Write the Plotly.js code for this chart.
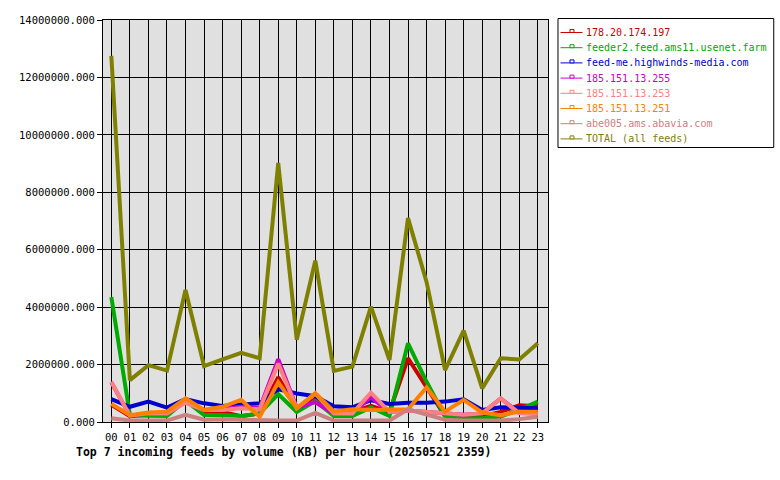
<!DOCTYPE html>
<html>
<head>
<meta charset="utf-8">
<script src="https://cdn.plot.ly/plotly-3.0.1.min.js"></script>
<style>html,body{margin:0;padding:0;background:#fff;}#chart{width:780px;height:480px;}</style>
</head>
<body>
<div id="chart"></div>
<script>
const hours = ["00","01","02","03","04","05","06","07","08","09","10","11","12","13","14","15","16","17","18","19","20","21","22","23"];
const seriesNames = ["178.20.174.197","feeder2.feed.ams11.usenet.farm","feed-me.highwinds-media.com","185.151.13.255","185.151.13.253","185.151.13.251","abe005.ams.abavia.com","TOTAL (all feeds)"];
const seriesColors = ["#cc0000","#00aa00","#0000cc","#cc00cc","#ff8080","#ff8000","#cc8080","#808000"];

const red     = [600000,200000,250000,300000,750000,350000,350000,200000,300000,1560000,450000,800000,300000,350000,560000,350000,2220000,1200000,200000,200000,200000,350000,580000,550000];
const green   = [4350000,240000,220000,210000,740000,240000,240000,210000,300000,970000,350000,730000,210000,210000,510000,210000,2740000,1400000,190000,130000,130000,190000,420000,710000];
const blue    = [800000,530000,710000,500000,800000,650000,560000,600000,650000,1140000,990000,900000,550000,510000,760000,630000,670000,670000,710000,790000,420000,510000,480000,480000];
const magenta = [1380000,220000,300000,300000,700000,420000,450000,530000,480000,2190000,500000,690000,300000,320000,860000,350000,400000,350000,300000,250000,300000,820000,320000,300000];
const pink    = [1400000,220000,300000,300000,670000,420000,420000,480000,440000,2040000,480000,990000,300000,300000,1020000,350000,400000,350000,300000,250000,300000,820000,300000,280000];
const orange  = [630000,240000,330000,360000,820000,420000,530000,770000,180000,1380000,480000,1000000,370000,440000,420000,440000,440000,1200000,360000,770000,330000,240000,360000,360000];
const dusty   = [130000,50000,50000,50000,250000,80000,100000,80000,50000,50000,50000,320000,50000,50000,50000,50000,440000,250000,80000,50000,50000,50000,100000,180000];
const total   = [12750000,1460000,1980000,1790000,4600000,1950000,2180000,2410000,2220000,9020000,2860000,5620000,1780000,1930000,4020000,2160000,7100000,4880000,1810000,3180000,1170000,2220000,2180000,2740000];

const allValues = [red, green, blue, magenta, pink, orange, dusty, total];
const xIdx = hours.map((h, i) => i);

const traces = allValues.map((vals, k) => ({
  x: xIdx,
  y: vals,
  type: "scatter",
  mode: "lines",
  name: seriesNames[k],
  line: {color: seriesColors[k], width: 4},
  hoverinfo: "skip",
  showlegend: false
}));

const mono = "DejaVu Sans Mono, Liberation Mono, monospace";

// plot area in pixels
const M = {l: 103, r: 231.5, t: 20, b: 58};
const W = 780, H = 480;
const pw = W - M.l - M.r, ph = H - M.t - M.b;
const px = p => (p - M.l) / pw;
const py = p => (H - M.b - p) / ph;

// legend box (drawn as layout decoration)
const shapes = [{
  type: "rect", xref: "paper", yref: "paper",
  x0: px(558.5), x1: px(774.5), y0: py(18.5), y1: py(147.5),
  line: {color: "#000", width: 1}, fillcolor: "#ffffff", layer: "above"
}];
const annotations = [];
seriesNames.forEach((nm, k) => {
  const yy = 32.5 + k * 15.2;
  shapes.push({type: "line", xref: "paper", yref: "paper",
    x0: px(561), x1: px(583), y0: py(yy), y1: py(yy),
    line: {color: seriesColors[k], width: 1}, layer: "above"});
  shapes.push({type: "rect", xref: "paper", yref: "paper",
    x0: px(570.5), x1: px(574.5), y0: py(yy), y1: py(yy - 3),
    line: {color: seriesColors[k], width: 1}, fillcolor: "#ffffff", layer: "above"});
  annotations.push({xref: "paper", yref: "paper", x: px(585), y: py(yy),
    xanchor: "left", yanchor: "middle", showarrow: false, text: nm,
    font: {family: mono, size: 10, color: seriesColors[k]}});
});
annotations.push({
  xref: "paper", yref: "paper",
  x: px(74), y: py(452), xanchor: "left", yanchor: "middle",
  showarrow: false,
  text: "<b>Top 7 incoming feeds by volume (KB) per hour (20250521 2359)</b>",
  font: {family: mono, size: 11.5, color: "#000"}
});

const layout = {
  width: W, height: H,
  margin: {l: M.l, r: M.r, t: M.t, b: M.b, pad: 0},
  paper_bgcolor: "#ffffff",
  plot_bgcolor: "#e0e0e0",
  showlegend: false,
  xaxis: {
    range: [-0.45, 23.55],
    tickmode: "array", tickvals: xIdx, ticktext: hours,
    showgrid: true, gridcolor: "#000000", gridwidth: 1,
    showline: true, linecolor: "#000000", linewidth: 1, mirror: true,
    ticks: "outside", ticklen: 5, tickcolor: "#000000",
    zeroline: false,
    tickfont: {family: mono, size: 10.5, color: "#000"}
  },
  yaxis: {
    range: [0, 14000000],
    tickmode: "array",
    tickvals: [0,2000000,4000000,6000000,8000000,10000000,12000000,14000000],
    ticktext: ["0.000","2000000.000","4000000.000","6000000.000","8000000.000","10000000.000","12000000.000","14000000.000"],
    showgrid: true, gridcolor: "#000000", gridwidth: 1,
    showline: true, linecolor: "#000000", linewidth: 1, mirror: true,
    ticks: "outside", ticklen: 5, tickcolor: "#000000",
    zeroline: false,
    tickfont: {family: mono, size: 10.5, color: "#000"}
  },
  shapes: shapes,
  annotations: annotations
};

Plotly.newPlot("chart", traces, layout, {displayModeBar: false, staticPlot: true});
</script>
</body>
</html>
